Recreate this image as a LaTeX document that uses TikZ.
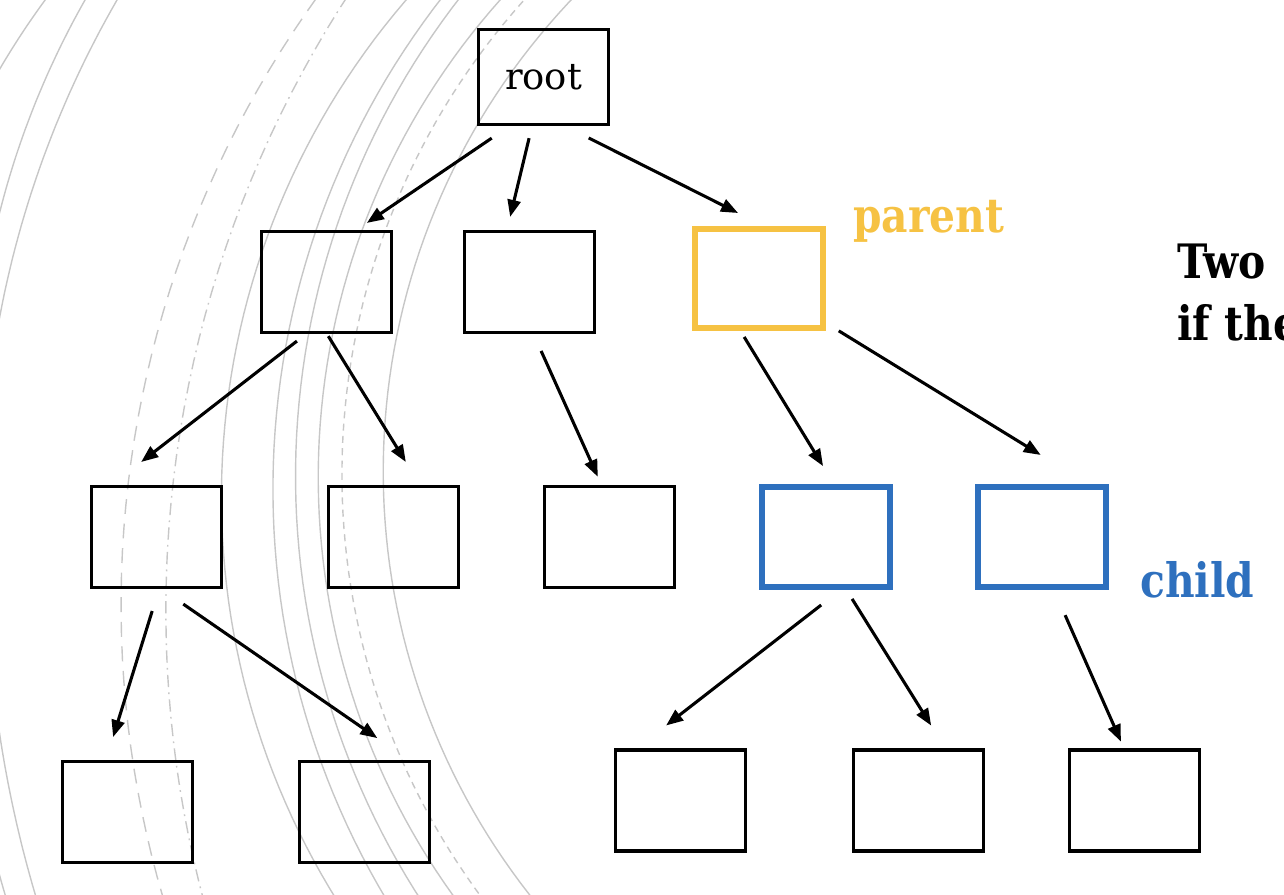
\documentclass[tikz,border=0pt]{standalone}
\usepackage{fontspec}
\setmainfont{DejaVu Serif}
\newfontfamily\slabfont[FakeStretch=0.86]{DejaVu Serif}
\usetikzlibrary{arrows.meta}
\definecolor{parentgold}{HTML}{F6C243}
\definecolor{childblue}{HTML}{2E70BE}

\tikzset{
  box/.style={draw, line width=1.75pt, minimum width=2.6cm, minimum height=2.02cm, inner sep=0pt},
  goldbox/.style={box, draw=parentgold, line width=3.4pt, minimum width=2.56cm, minimum height=1.98cm},
  bluebox/.style={box, draw=childblue, line width=3.4pt, minimum width=2.56cm, minimum height=2.0cm},
  arr/.style={line width=1.75pt, -{Triangle[length=0.34cm,width=0.26cm]}},
  ring/.style={draw=black!22, line width=0.8pt},
  tag/.style={font=\slabfont\bfseries\fontsize{27pt}{32pt}\selectfont, inner sep=0pt, anchor=base west}
}

\begin{document}
\begin{tikzpicture}[x=0.02cm, y=-0.02cm]
\useasboundingbox (0,0) rectangle (1284,894);
\draw[ring] plot[domain=200:222, samples=40] ({700+812*cos(\x)}, {480+812*sin(\x)});
\draw[ring] plot[domain=188:214, samples=40] ({828.4+854.9*cos(\x)}, {422.1+854.9*sin(\x)});
\draw[ring] plot[domain=188:214, samples=40] ({985.2+1002.7*cos(\x)}, {501.6+1002.7*sin(\x)});
\draw[ring] plot[domain=160:176, samples=40] ({1184.2+1198*cos(\x)}, {555.4+1198*sin(\x)});
\draw[ring] plot[domain=160:170, samples=30] ({1154+1198*cos(\x)}, {555.4+1198*sin(\x)});
\draw[ring, dash pattern=on 8.5pt off 5.5pt] plot[domain=120:240, samples=100] ({1161.4+1040.4*cos(\x)}, {605+1040.4*sin(\x)});
\draw[ring, dash pattern=on 7pt off 3pt on 1pt off 3pt] plot[domain=120:240, samples=100] ({1296+1130.2*cos(\x)}, {610.6+1130.2*sin(\x)});
\draw[ring] plot[domain=120:240, samples=100] ({983+761.6*cos(\x)}, {497.1+761.6*sin(\x)});
\draw[ring] plot[domain=120:240, samples=100] ({1072.1+799.2*cos(\x)}, {489.1+799.2*sin(\x)});
\draw[ring] plot[domain=120:240, samples=100] ({1074.4+778.9*cos(\x)}, {476.2+778.9*sin(\x)});
\draw[ring] plot[domain=120:240, samples=100] ({1034.9+716.7*cos(\x)}, {477+716.7*sin(\x)});
\draw[ring, dash pattern=on 4pt off 3pt] plot[domain=120:240, samples=100] ({1051.5+709.6*cos(\x)}, {474.7+709.6*sin(\x)});
\draw[ring] plot[domain=120:240, samples=100] ({1068.8+685.6*cos(\x)}, {471.4+685.6*sin(\x)});

\node[box, minimum height=1.9cm, font=\fontsize{21pt}{25pt}\selectfont] (root) at (543.5,77) {root};
\node[box] (a) at (326.5,282) {};
\node[box] (b) at (529.5,282) {};
\node[goldbox] (parent) at (759,278.5) {};
\node[box] (aa) at (156.5,537) {};
\node[box] (ab) at (393.5,537) {};
\node[box] (ba) at (609.5,537) {};
\node[bluebox] (kid1) at (826,537) {};
\node[bluebox] (kid2) at (1042,537) {};
\node[box] (aaa) at (127.5,812) {};
\node[box] (aab) at (364.5,812) {};
\node[box] (kid1a) at (680.5,800.5) {};
\node[box] (kid1b) at (918.5,800.5) {};
\node[box] (kid2a) at (1134.5,800.5) {};

\node[tag, text=parentgold] (parentname) at (853,232) {parent};
\node[tag, text=childblue] (childname) at (1140,597) {child};
\node[tag] (line1) at (1177,278) {Two};
\node[tag] (line2) at (1177,340) {if the};

\draw[arr, shorten <=0.43cm, shorten >=0.25cm] ([xshift=-0.68cm]root.south) -- ([xshift=0.60cm]a.north);
\draw[arr, shorten <=0.25cm, shorten >=0.27cm] ([xshift=-0.23cm]root.south) -- ([xshift=-0.45cm]b.north);
\draw[arr, shorten <=0.53cm, shorten >=0.58cm] ([xshift=0.43cm]root.south) -- ([xshift=0.10cm]parent.north);
\draw[arr, shorten <=0.23cm, shorten >=0.75cm] ([xshift=-0.41cm]a.south) -- ([xshift=-0.90cm]aa.north);
\draw[arr, shorten <=0.05cm, shorten >=0.54cm] ([xshift=0.01cm]a.south) -- ([xshift=0.53cm]ab.north);
\draw[arr, shorten <=0.37cm, shorten >=0.18cm] ([xshift=0.08cm]b.south) -- ([xshift=-0.16cm]ba.north);
\draw[arr, shorten <=0.14cm, shorten >=0.42cm] ([xshift=-0.37cm]parent.south) -- ([xshift=0.16cm]kid1.north);
\draw[arr, shorten <=0.30cm, shorten >=1.11cm] ([yshift=0.16cm]parent.south east) -- ([xshift=0.92cm]kid2.north);
\draw[arr, shorten <=0.46cm, shorten >=0.48cm] ([xshift=0.05cm]aa.south) -- ([xshift=-0.43cm]aaa.north);
\draw[arr, shorten <=0.53cm, shorten >=0.77cm] ([xshift=0.10cm]aa.south) -- ([xshift=0.89cm]aab.north);
\draw[arr, shorten <=0.49cm, shorten >=0.75cm] ([xshift=0.29cm]kid1.south) -- ([xshift=-0.88cm]kid1a.north);
\draw[arr, shorten <=0.21cm, shorten >=0.54cm] ([xshift=0.41cm]kid1.south) -- ([xshift=0.54cm]kid1b.north);
\draw[arr, shorten <=0.55cm, shorten >=0.15cm] ([xshift=0.24cm]kid2.south) -- ([xshift=-0.21cm]kid2a.north);
\end{tikzpicture}
\end{document}
